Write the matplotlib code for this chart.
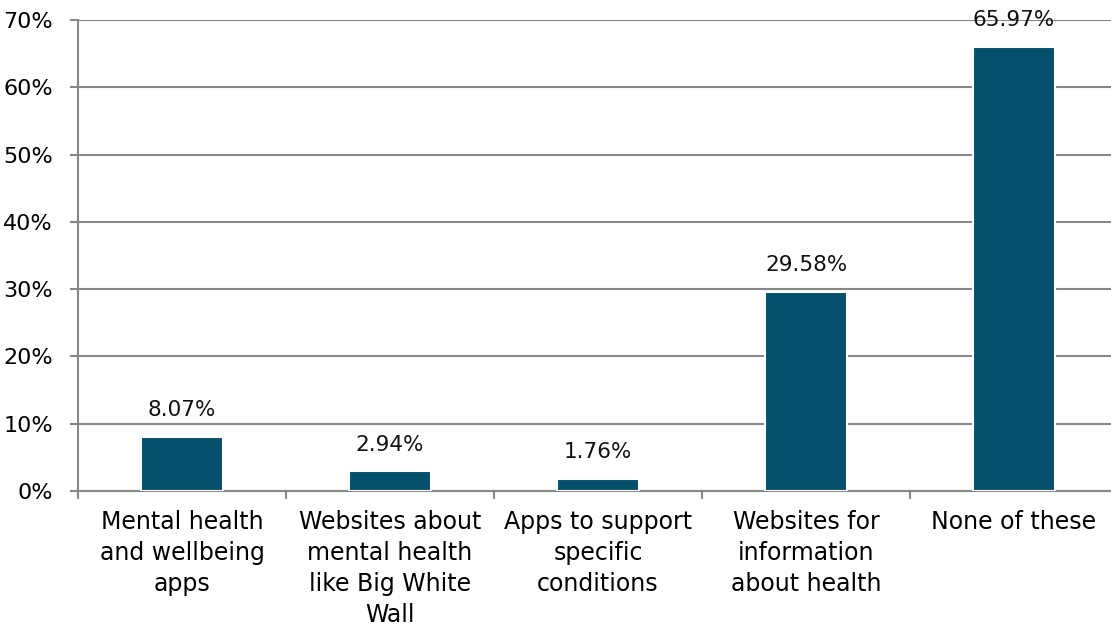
import numpy as np
import matplotlib.pyplot as plt
from matplotlib.ticker import FixedLocator, NullFormatter, PercentFormatter

categories = [
    "Mental health\nand wellbeing\napps",
    "Websites about\nmental health\nlike Big White\nWall",
    "Apps to support\nspecific\nconditions",
    "Websites for\ninformation\nabout health",
    "None of these",
]
values = [8.07, 2.94, 1.76, 29.58, 65.97]

bar_color = "#03506a"
grid_color = "#878787"

plt.rcParams["font.family"] = ["DejaVu Sans"]

fig = plt.figure(figsize=(11.11, 6.32), dpi=100)
ax = fig.add_axes([78 / 1111, 141 / 632, 1040 / 1111, 471 / 632])

x = np.arange(len(categories))
bars = ax.bar(x, values, width=0.39, color=bar_color, edgecolor="white",
              linewidth=1.5, zorder=3)

for b, v in zip(bars, values):
    ax.annotate(f"{v:.2f}%", (b.get_x() + b.get_width() / 2, v),
                xytext=(0, 12), textcoords="offset points",
                ha="center", va="bottom", fontsize=15.5, color="#111111",
                zorder=4)

ax.set_xlim(-0.5, len(categories) - 0.5)
ax.set_ylim(0, 70)
ax.set_yticks(np.arange(0, 71, 10))
ax.yaxis.set_major_formatter(PercentFormatter(decimals=0))
ax.yaxis.grid(True, color=grid_color, linewidth=1.5, zorder=1)

# category labels centred, tick marks on the boundaries between them
ax.set_xticks(x)
ax.set_xticklabels(categories, fontsize=17, linespacing=1.36)
ax.tick_params(axis="x", length=0, pad=14)
ax.xaxis.set_minor_locator(FixedLocator(np.arange(-0.5, len(categories), 1.0)))
ax.xaxis.set_minor_formatter(NullFormatter())
ax.tick_params(axis="x", which="minor", length=6, width=1.5, color=grid_color)
ax.tick_params(axis="y", length=6, width=1.5, color=grid_color, pad=12,
               labelsize=16)

for s in ("top", "right"):
    ax.spines[s].set_visible(False)
for s in ("left", "bottom"):
    ax.spines[s].set_color(grid_color)
    ax.spines[s].set_linewidth(1.5)

fig.savefig("out.png", dpi=100)
